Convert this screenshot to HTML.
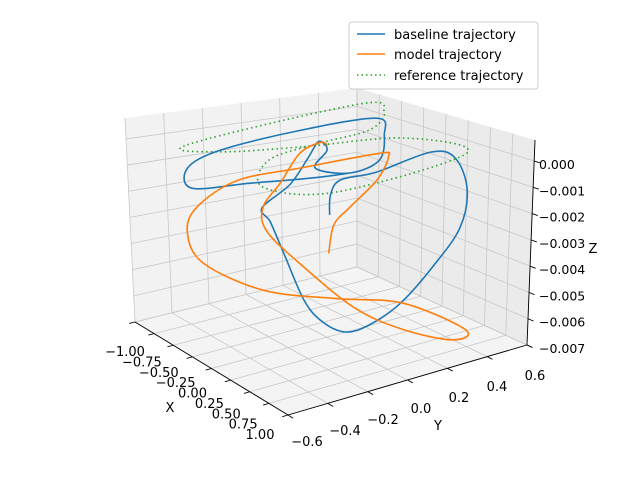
<!DOCTYPE html>
<html><head><meta charset="utf-8"><style>
html,body{margin:0;padding:0;background:#fff}
svg{display:block}
text{font-family:"DejaVu Sans","Liberation Sans",sans-serif;font-size:13px;fill:#000}
.zl{font-size:12.5px}
</style></head><body>
<svg id="chart" width="640" height="480" viewBox="0 0 640 480" xmlns="http://www.w3.org/2000/svg">
<g id="panes"></g>
<g id="grid"></g>
<g id="axes"></g>
<g id="series"></g>
<text x="170" y="412" text-anchor="middle">X</text>
<text x="438" y="430" text-anchor="middle">Y</text>
<text x="593" y="253" text-anchor="middle">Z</text>
<g>
<rect x="349" y="22" width="189" height="67" rx="3" fill="#fff" fill-opacity="0.8" stroke="#ccc" stroke-width="1"/>
<line x1="357" y1="34" x2="385" y2="34" stroke="#1f77b4" stroke-width="1.5"/>
<text x="394" y="39">baseline trajectory</text>
<line x1="357" y1="54" x2="385" y2="54" stroke="#ff7f0e" stroke-width="1.5"/>
<text x="394" y="59">model trajectory</text>
<line x1="357" y1="75" x2="385" y2="75" stroke="#2ca02c" stroke-width="1.5" stroke-dasharray="1.5,3"/>
<text x="394" y="80">reference trajectory</text>
</g>
</svg>
<script>
const xTicks=[-1,-0.75,-0.5,-0.25,0,0.25,0.5,0.75,1];
const xTickLabels=["−1.00","−0.75","−0.50","−0.25","0.00","0.25","0.50","0.75","1.00"];
const yTicks=[-0.6,-0.4,-0.2,0,0.2,0.4,0.6];
const yTickLabels=["−0.6","−0.4","−0.2","0.0","0.2","0.4","0.6"];
const zTicks=[-0.007,-0.006,-0.005,-0.004,-0.003,-0.002,-0.001,0];
const zTickLabels=["−0.007","−0.006","−0.005","−0.004","−0.003","−0.002","−0.001","0.000"];
const baseX=[-0.20,-0.11,0.10,0.14,0.08,0.27,0.40,0.54,0.59,0.62,0.42,0.42,0.17,0.17,-0.19,-0.35,-0.59,-0.43,-0.37,-0.55,-0.39,-0.18,0.04,-0.02,0.02,-0.26,-0.41,-0.46,-0.34,-0.41,-0.24,-0.05,0.04];
const baseY=[0.07,0.04,0.01,0.17,0.47,0.52,0.53,0.44,0.29,0.11,0.03,-0.09,-0.11,-0.20,-0.16,-0.17,-0.12,-0.04,0.03,0.15,0.13,-0.01,0.08,0.25,0.26,0.33,0.0,-0.38,-0.59,-0.54,-0.32,-0.08,0.08];
const baseZ=[-0.003,-0.002,-0.001,-0.001,-0.001,-0.001,-0.002,-0.003,-0.004,-0.005,-0.006,-0.006,-0.006,-0.005,-0.004,-0.003,-0.003,-0.002,-0.001,-0.001,-0.001,-0.001,-0.001,-0.001,0,0,0,0,0,-0.001,-0.001,-0.001,-0.001];
const modelX=[-0.03,-0.04,0.15,0.26,-0.03,-0.12,-0.24,-0.33,-0.50,-0.55,-0.42,-0.15,0.28,0.63,0.90,0.99,0.63,0.48,-0.06,-0.25,-0.60,-0.50,-0.46,-0.53,-0.46];
const modelY=[0.0,0.03,0.04,0.13,0.30,0.29,-0.05,-0.34,-0.48,-0.51,-0.48,-0.28,-0.08,0.12,0.33,0.23,0.12,-0.07,-0.15,-0.23,-0.11,-0.06,0.02,0.15,0.16];
const modelZ=[-0.004,-0.003,-0.002,-0.001,-0.001,-0.001,-0.001,-0.001,-0.002,-0.003,-0.004,-0.005,-0.005,-0.005,-0.006,-0.006,-0.006,-0.005,-0.004,-0.003,-0.003,-0.002,-0.001,-0.001,-0.001];
const refX=[-0.68,-0.54,-0.32,-0.12,-0.14,-0.11,0.26,0.64,0.63,0.14,-0.16,-0.44];
const refY=[-0.46,0.35,0.39,0.24,0.0,-0.27,-0.44,-0.22,0.44,0.31,-0.08,-0.39];
const refZ=[0,0,0,0,0,0,0,0,0,0,0,0];

const XMIN=-1,XMAX=1,YMIN=-0.6,YMAX=0.6,ZMIN=-0.007,ZMAX=0.0008;
const C={"000":[135,322],"100":[288,415],"110":[527,345],"010":[357,267],
 "001":[125,118],"101":[290,188],"111":[535,140],"011":[357,88]};
function tri(u,v,w){let x=0,y=0;
 for(const a of [0,1])for(const b of [0,1])for(const c of [0,1]){
  const k=(a?u:1-u)*(b?v:1-v)*(c?w:1-w);const p=C[""+a+b+c];x+=k*p[0];y+=k*p[1];}
 return [x,y];}
const un=x=>(x-XMIN)/(XMAX-XMIN), vn=y=>(y-YMIN)/(YMAX-YMIN), wn=z=>(z-ZMIN)/(ZMAX-ZMIN);
function proj(x,y,z){const u=un(x),v=vn(y),w=wn(z);return [135+153*u+239*v,322+93*u-70*v-205*w];}
const NS="http://www.w3.org/2000/svg";
function mk(tag,attrs,parent){const e=document.createElementNS(NS,tag);for(const k in attrs)e.setAttribute(k,attrs[k]);parent.appendChild(e);return e;}
const panes=document.getElementById('panes'),grid=document.getElementById('grid'),axes=document.getElementById('axes'),series=document.getElementById('series');
function poly(pts){return pts.map(p=>p.join(',')).join(' ');}
let e;
e=mk('polygon',{points:poly([tri(0,0,0),tri(0,1,0),tri(0,1,1),tri(0,0,1)]),fill:'#f2f2f2'},panes);


e=mk('polygon',{points:poly([tri(0,1,0),tri(1,1,0),tri(1,1,1),tri(0,1,1)]),fill:'#ebebeb'},panes);


e=mk('polygon',{points:poly([tri(0,0,0),tri(1,0,0),tri(1,1,0),tri(0,1,0)]),fill:'#f4f4f4'},panes);


function gl(a,b,name){const l=mk('line',{x1:a[0],y1:a[1],x2:b[0],y2:b[1],stroke:'#c8c8c8','stroke-width':0.8},grid);
 
 }
xTicks.forEach(t=>{const u=un(t);gl(tri(u,0,0),tri(u,1,0),'x-gridline-floor');gl(tri(u,1,0),tri(u,1,1),'x-gridline-wall');});
yTicks.forEach(t=>{const v=vn(t);gl(tri(0,v,0),tri(1,v,0),'y-gridline-floor');gl(tri(0,v,0),tri(0,v,1),'y-gridline-wall');});
zTicks.forEach(t=>{const w=wn(t);gl(tri(0,0,w),tri(0,1,w),'z-gridline-left');gl(tri(0,1,w),tri(1,1,w),'z-gridline-right');});
function al(a,b,name){const l=mk('line',{x1:a[0],y1:a[1],x2:b[0],y2:b[1],stroke:'#000','stroke-width':0.9},axes);
 
 }
function txt(x,y,s,anchor,name,cls){const t=mk('text',{x:x,y:y,'text-anchor':anchor},axes);t.textContent=s;
 if(cls)t.setAttribute('class',cls);
 
 }
al(tri(0,0,0),tri(1,0,0),'x-axis-line');
al(tri(1,0,0),tri(1,1,0),'y-axis-line');
al(tri(1,1,0),tri(1,1,1),'z-axis-line');
function ext(a,b,len){const dx=a[0]-b[0],dy=a[1]-b[1],d=Math.hypot(dx,dy);return [a[0]+dx/d*len,a[1]+dy/d*len];}
xTicks.forEach((t,i)=>{const u=un(t);const a=tri(u,0,0),b=ext(a,tri(u,1,0),6);al(a,b,'x-tick');
 txt(a[0]-10-18*u,a[1]+34-10*u,xTickLabels[i],'middle','x-tick-label');});
yTicks.forEach((t,i)=>{const v=vn(t);const a=tri(1,v,0),b=ext(a,tri(0,v,0),6);al(a,b,'y-tick');
 txt(a[0]+19-11*v,a[1]+31+4*v,yTickLabels[i],'middle','y-tick-label');});
zTicks.forEach((t,i)=>{const w=wn(t);const a=tri(1,1,w),b=ext(a,tri(0,1,w),6);al(a,b,'z-tick');
 txt(539,a[1]+8,zTickLabels[i],'start','z-tick-label','zl');});
function smooth(P,closed){const n=P.length;let d='M'+P[0][0].toFixed(1)+','+P[0][1].toFixed(1);
 const g=i=>closed?P[(i+n)%n]:P[Math.max(0,Math.min(n-1,i))];
 const m=closed?n:n-1;
 for(let i=0;i<m;i++){const p0=g(i-1),p1=g(i),p2=g(i+1),p3=g(i+2);
  const c1=[p1[0]+(p2[0]-p0[0])/6,p1[1]+(p2[1]-p0[1])/6],c2=[p2[0]-(p3[0]-p1[0])/6,p2[1]-(p3[1]-p1[1])/6];
  d+='C'+c1.map(v=>v.toFixed(1)).join(',')+' '+c2.map(v=>v.toFixed(1)).join(',')+' '+p2.map(v=>v.toFixed(1)).join(',');}
 return d+(closed?'Z':'');}
function pts(X,Y,Z){return X.map((x,i)=>proj(x,Y[i],Z[i]));}
e=mk('path',{d:smooth(pts(refX,refY,refZ),true),fill:'none',stroke:'#2ca02c','stroke-width':1.6,'stroke-dasharray':'1.5,3.2'},series);


e=mk('path',{d:smooth(pts(baseX,baseY,baseZ),false),fill:'none',stroke:'#1f77b4','stroke-width':1.6},series);


e=mk('path',{d:smooth(pts(modelX,modelY,modelZ),false),fill:'none',stroke:'#ff7f0e','stroke-width':1.6},series);


</script>
</body></html>
